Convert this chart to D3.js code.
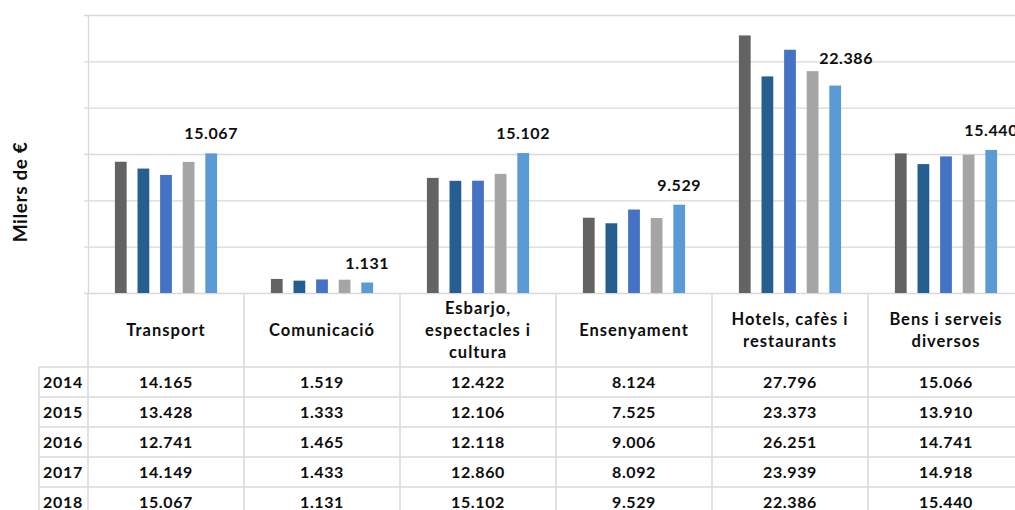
<!DOCTYPE html>
<html><head><meta charset="utf-8">
<script src="https://cdn.jsdelivr.net/npm/d3@7"></script>
<style>
html,body{margin:0;padding:0;background:#fff;overflow:hidden;}
text{font-family:Lato,"Open Sans",sans-serif;font-weight:bold;fill:#0d0d0d;}
</style></head>
<body><svg id="c" width="1015" height="510"></svg>
<script>
const categories = ["Transport", "Comunicació", "Esbarjo,\nespectacles i\ncultura", "Ensenyament", "Hotels, cafès i\nrestaurants", "Bens i serveis\ndiversos"];
const years = ["2014", "2015", "2016", "2017", "2018"];
const v2014 = [14165, 1519, 12422, 8124, 27796, 15066];
const v2015 = [13428, 1333, 12106, 7525, 23373, 13910];
const v2016 = [12741, 1465, 12118, 9006, 26251, 14741];
const v2017 = [14149, 1433, 12860, 8092, 23939, 14918];
const v2018 = [15067, 1131, 15102, 9529, 22386, 15440];
const yTicks = [0, 5000, 10000, 15000, 20000, 25000, 30000];
const yTitle = "Milers de €";
const colors = ["#636363", "#255e91", "#4472c4", "#a5a5a5", "#5b9bd5"];

const series = [v2014, v2015, v2016, v2017, v2018];
const fmt = d3.formatLocale({decimal: ",", thousands: ".", grouping: [3], currency: ["", "€"]}).format(",d");

const svg = d3.select("#c");
svg.append("rect").attr("width", 1015).attr("height", 510).attr("fill", "#fff");

const plotL = 88, plotR = 1024, plotT = 15, plotB = 293;
const y = d3.scaleLinear().domain([0, 30000]).range([plotB, plotT]);
const x0 = d3.scaleBand().domain(categories).range([plotL, plotR]);
const x1 = d3.scaleBand().domain(years).range([0, x0.bandwidth()]).paddingInner(0.48).paddingOuter(1.19);
const grid = "#d9d9d9";

// gridlines + y ticks via axis
const yAxis = d3.axisLeft(y).tickValues(yTicks).tickFormat("").tickSizeInner(-(plotR - plotL)).tickSizeOuter(0);
const ga = svg.append("g").attr("transform", `translate(${plotL},0)`).call(yAxis);
ga.selectAll(".tick line").attr("x1", -4).attr("stroke", grid).attr("stroke-width", 1.3);
ga.select(".domain").attr("stroke", grid).attr("stroke-width", 1.3);

// bars
const data = [];
categories.forEach((c, i) => years.forEach((yr, j) => data.push({c, yr, j, v: series[j][i]})));
svg.append("g").selectAll("rect").data(data).join("rect")
  .attr("x", d => x0(d.c) + x1(d.yr))
  .attr("width", x1.bandwidth())
  .attr("y", d => y(d.v))
  .attr("height", d => y(0) - y(d.v))
  .attr("fill", d => colors[d.j]);

// labels for last year
const last = years.length - 1;
const nudge = {4: [11, -8]};
svg.append("g").selectAll("text").data(categories).join("text")
  .attr("x", (c, i) => x0(c) + x1(years[last]) + x1.bandwidth() / 2 + (nudge[i] ? nudge[i][0] : 0))
  .attr("y", (c, i) => y(series[last][i]) - 14 + (nudge[i] ? nudge[i][1] : 0))
  .attr("text-anchor", "middle").attr("font-size", 16).attr("letter-spacing", 0.6)
  .text((c, i) => fmt(series[last][i]));

// y title
svg.append("text").attr("transform", "translate(27,192) rotate(-90)")
  .attr("text-anchor", "middle").attr("font-size", 19).attr("letter-spacing", 0.6).text(yTitle);

// table
const rowY = d3.scaleBand().domain(years).range([367, 517]);
const yearL = 39;
const tg = svg.append("g");
// horizontal lines
tg.selectAll("line.h").data(years.concat(["end"])).join("line")
  .attr("x1", yearL).attr("x2", plotR)
  .attr("y1", d => d === "end" ? rowY.range()[1] : rowY(d))
  .attr("y2", d => d === "end" ? rowY.range()[1] : rowY(d))
  .attr("stroke", grid).attr("stroke-width", 1.5);
// vertical lines
const vx = categories.map(c => x0(c)).concat([plotR]);
tg.selectAll("line.v").data(vx).join("line")
  .attr("x1", d => d).attr("x2", d => d).attr("y1", plotB).attr("y2", 517)
  .attr("stroke", grid).attr("stroke-width", 1.5);
tg.append("line").attr("x1", yearL).attr("x2", yearL).attr("y1", 367).attr("y2", 517)
  .attr("stroke", grid).attr("stroke-width", 1.5);

// header text
const hdr = tg.selectAll("text.hdr").data(categories).join("text")
  .attr("text-anchor", "middle").attr("font-size", 16.5).attr("letter-spacing", 1.0)
  .attr("x", c => x0(c) + x0.bandwidth() / 2);
hdr.each(function(c) {
  const lines = c.split("\n");
  const t = d3.select(this);
  const lh = 22, cy = (plotB + 367) / 2;
  lines.forEach((l, k) => {
    t.append("tspan").attr("x", x0(c) + x0.bandwidth() / 2)
      .attr("y", cy + (k - (lines.length - 1) / 2) * lh).attr("dy", "0.35em").text(l);
  });
});

// year labels
tg.selectAll("text.yr").data(years).join("text")
  .attr("x", 43).attr("y", d => rowY(d) + rowY.bandwidth() / 2).attr("dy", "0.35em")
  .attr("font-size", 16).attr("letter-spacing", 0.7).text(d => d);

// cell values
const cells = [];
years.forEach((yr, j) => categories.forEach((c, i) => cells.push({yr, c, v: series[j][i]})));
tg.selectAll("text.cell").data(cells).join("text")
  .attr("x", d => x0(d.c) + x0.bandwidth() / 2)
  .attr("y", d => rowY(d.yr) + rowY.bandwidth() / 2).attr("dy", "0.35em")
  .attr("text-anchor", "middle").attr("font-size", 16).attr("letter-spacing", 0.6)
  .text(d => fmt(d.v));
</script></body></html>
